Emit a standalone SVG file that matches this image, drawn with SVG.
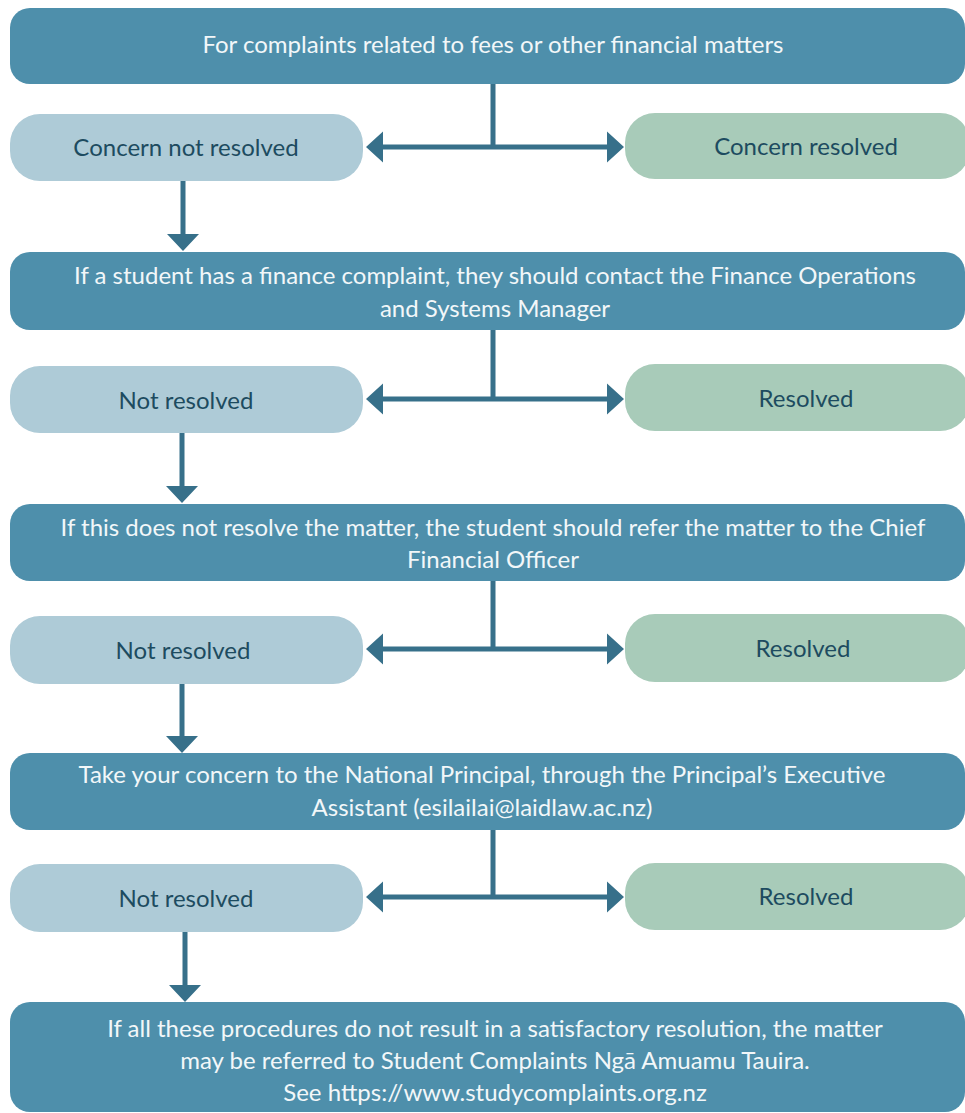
<svg xmlns="http://www.w3.org/2000/svg" width="965" height="1113" viewBox="0 0 965 1113">
<style>
.main{fill:#4e8fab}
.no{fill:#aecbd7}
.yes{fill:#a8cbb9}
.mt{font-family:Lato,"Open Sans",sans-serif;font-size:24px;fill:#f2f7f9;text-anchor:middle}
.nt{font-family:Lato,"Open Sans",sans-serif;font-size:24px;fill:#1d4b60;text-anchor:middle}
.ln{stroke:#37708a;stroke-width:5;fill:none}
.ah{fill:#37708a}
</style>
<rect width="965" height="1113" fill="#ffffff"/>
<g id="connectors">
<path class="ln" d="M493 84V147M380 147H610M183 181V236"/>
<path class="ah" d="M366 147L383 131.5V162.5Z M624 147L607 131.5V162.5Z M183 251L167 234H199Z"/>
<path class="ln" d="M493 330V399M380 399H610M182 433V487"/>
<path class="ah" d="M366 399L383 383.5V414.5Z M624 399L607 383.5V414.5Z M182 503L166 486H198Z"/>
<path class="ln" d="M493 581V649M380 649H610M182 684V737"/>
<path class="ah" d="M366 649L383 633.5V664.5Z M624 649L607 633.5V664.5Z M182 753L166 736H198Z"/>
<path class="ln" d="M493 830V897M380 897H610M185 932V986"/>
<path class="ah" d="M366 897L383 881.5V912.5Z M624 897L607 881.5V912.5Z M185 1002L169 985H201Z"/>
</g>
<g id="start">
<rect class="main" x="10" y="8" width="955" height="76" rx="20"/>
<text class="mt" x="493" y="53">For complaints related to fees or other financial matters</text>
</g>
<g id="concern-not-resolved">
<rect class="no" x="10" y="114" width="353" height="67" rx="30"/>
<text class="nt" x="186" y="156">Concern not resolved</text>
</g>
<g id="concern-resolved">
<rect class="yes" x="625" y="113" width="345" height="66" rx="30"/>
<text class="nt" x="806" y="155">Concern resolved</text>
</g>
<g id="finance-manager">
<rect class="main" x="10" y="252" width="955" height="78" rx="20"/>
<text class="mt" x="495" y="284">If a student has a finance complaint, they should contact the Finance Operations</text>
<text class="mt" x="495" y="317">and Systems Manager</text>
</g>
<g id="not-resolved-2">
<rect class="no" x="10" y="366" width="353" height="67" rx="30"/>
<text class="nt" x="186" y="409">Not resolved</text>
</g>
<g id="resolved-2">
<rect class="yes" x="625" y="364" width="345" height="67" rx="30"/>
<text class="nt" x="806" y="407">Resolved</text>
</g>
<g id="cfo">
<rect class="main" x="10" y="504" width="955" height="77" rx="20"/>
<text class="mt" x="493" y="536">If this does not resolve the matter, the student should refer the matter to the Chief</text>
<text class="mt" x="493" y="568">Financial Officer</text>
</g>
<g id="not-resolved-3">
<rect class="no" x="10" y="616" width="353" height="68" rx="30"/>
<text class="nt" x="183" y="659">Not resolved</text>
</g>
<g id="resolved-3">
<rect class="yes" x="625" y="614" width="345" height="68" rx="30"/>
<text class="nt" x="803" y="657">Resolved</text>
</g>
<g id="principal">
<rect class="main" x="10" y="753" width="955" height="77" rx="20"/>
<text class="mt" x="482" y="783">Take your concern to the National Principal, through the Principal’s Executive</text>
<text class="mt" x="482" y="816">Assistant (esilailai@laidlaw.ac.nz)</text>
</g>
<g id="not-resolved-4">
<rect class="no" x="10" y="864" width="353" height="68" rx="30"/>
<text class="nt" x="186" y="907">Not resolved</text>
</g>
<g id="resolved-4">
<rect class="yes" x="625" y="863" width="345" height="67" rx="30"/>
<text class="nt" x="806" y="905">Resolved</text>
</g>
<g id="student-complaints">
<rect class="main" x="10" y="1002" width="955" height="110" rx="20"/>
<text class="mt" x="495" y="1037">If all these procedures do not result in a satisfactory resolution, the matter</text>
<text class="mt" x="495" y="1069">may be referred to Student Complaints Ngā Amuamu Tauira.</text>
<text class="mt" x="495" y="1101">See https://www.studycomplaints.org.nz</text>
</g>
</svg>
